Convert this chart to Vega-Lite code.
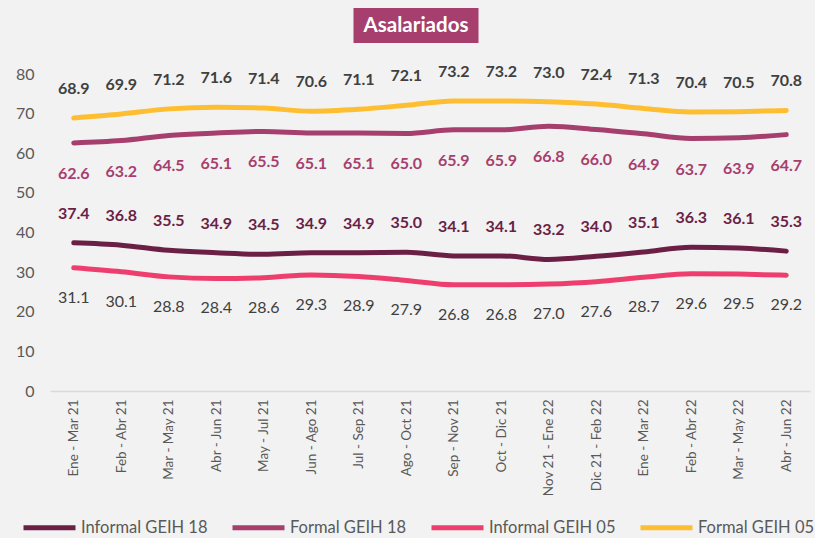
{
  "$schema": "https://vega.github.io/schema/vega-lite/v6.json",
  "background": "#F2F2F2",
  "padding": {"left": 15, "top": 8, "right": 0, "bottom": 0},
  "config": {
    "view": {"stroke": null},
    "font": "Lato"
  },
  "center": true,
  "spacing": 20,
  "datasets": {
    "series": [
      {"periodo": "Ene - Mar 21", "serie": "Informal GEIH 18", "valor": 37.4},
      {"periodo": "Feb - Abr 21", "serie": "Informal GEIH 18", "valor": 36.8},
      {"periodo": "Mar - May 21", "serie": "Informal GEIH 18", "valor": 35.5},
      {"periodo": "Abr - Jun 21", "serie": "Informal GEIH 18", "valor": 34.9},
      {"periodo": "May - Jul 21", "serie": "Informal GEIH 18", "valor": 34.5},
      {"periodo": "Jun - Ago 21", "serie": "Informal GEIH 18", "valor": 34.9},
      {"periodo": "Jul - Sep 21", "serie": "Informal GEIH 18", "valor": 34.9},
      {"periodo": "Ago - Oct 21", "serie": "Informal GEIH 18", "valor": 35.0},
      {"periodo": "Sep - Nov 21", "serie": "Informal GEIH 18", "valor": 34.1},
      {"periodo": "Oct - Dic 21", "serie": "Informal GEIH 18", "valor": 34.1},
      {"periodo": "Nov 21 - Ene 22", "serie": "Informal GEIH 18", "valor": 33.2},
      {"periodo": "Dic 21 - Feb 22", "serie": "Informal GEIH 18", "valor": 34.0},
      {"periodo": "Ene - Mar 22", "serie": "Informal GEIH 18", "valor": 35.1},
      {"periodo": "Feb - Abr 22", "serie": "Informal GEIH 18", "valor": 36.3},
      {"periodo": "Mar - May 22", "serie": "Informal GEIH 18", "valor": 36.1},
      {"periodo": "Abr - Jun 22", "serie": "Informal GEIH 18", "valor": 35.3},
      {"periodo": "Ene - Mar 21", "serie": "Formal GEIH 18", "valor": 62.6},
      {"periodo": "Feb - Abr 21", "serie": "Formal GEIH 18", "valor": 63.2},
      {"periodo": "Mar - May 21", "serie": "Formal GEIH 18", "valor": 64.5},
      {"periodo": "Abr - Jun 21", "serie": "Formal GEIH 18", "valor": 65.1},
      {"periodo": "May - Jul 21", "serie": "Formal GEIH 18", "valor": 65.5},
      {"periodo": "Jun - Ago 21", "serie": "Formal GEIH 18", "valor": 65.1},
      {"periodo": "Jul - Sep 21", "serie": "Formal GEIH 18", "valor": 65.1},
      {"periodo": "Ago - Oct 21", "serie": "Formal GEIH 18", "valor": 65.0},
      {"periodo": "Sep - Nov 21", "serie": "Formal GEIH 18", "valor": 65.9},
      {"periodo": "Oct - Dic 21", "serie": "Formal GEIH 18", "valor": 65.9},
      {"periodo": "Nov 21 - Ene 22", "serie": "Formal GEIH 18", "valor": 66.8},
      {"periodo": "Dic 21 - Feb 22", "serie": "Formal GEIH 18", "valor": 66.0},
      {"periodo": "Ene - Mar 22", "serie": "Formal GEIH 18", "valor": 64.9},
      {"periodo": "Feb - Abr 22", "serie": "Formal GEIH 18", "valor": 63.7},
      {"periodo": "Mar - May 22", "serie": "Formal GEIH 18", "valor": 63.9},
      {"periodo": "Abr - Jun 22", "serie": "Formal GEIH 18", "valor": 64.7},
      {"periodo": "Ene - Mar 21", "serie": "Informal GEIH 05", "valor": 31.1},
      {"periodo": "Feb - Abr 21", "serie": "Informal GEIH 05", "valor": 30.1},
      {"periodo": "Mar - May 21", "serie": "Informal GEIH 05", "valor": 28.8},
      {"periodo": "Abr - Jun 21", "serie": "Informal GEIH 05", "valor": 28.4},
      {"periodo": "May - Jul 21", "serie": "Informal GEIH 05", "valor": 28.6},
      {"periodo": "Jun - Ago 21", "serie": "Informal GEIH 05", "valor": 29.3},
      {"periodo": "Jul - Sep 21", "serie": "Informal GEIH 05", "valor": 28.9},
      {"periodo": "Ago - Oct 21", "serie": "Informal GEIH 05", "valor": 27.9},
      {"periodo": "Sep - Nov 21", "serie": "Informal GEIH 05", "valor": 26.8},
      {"periodo": "Oct - Dic 21", "serie": "Informal GEIH 05", "valor": 26.8},
      {"periodo": "Nov 21 - Ene 22", "serie": "Informal GEIH 05", "valor": 27.0},
      {"periodo": "Dic 21 - Feb 22", "serie": "Informal GEIH 05", "valor": 27.6},
      {"periodo": "Ene - Mar 22", "serie": "Informal GEIH 05", "valor": 28.7},
      {"periodo": "Feb - Abr 22", "serie": "Informal GEIH 05", "valor": 29.6},
      {"periodo": "Mar - May 22", "serie": "Informal GEIH 05", "valor": 29.5},
      {"periodo": "Abr - Jun 22", "serie": "Informal GEIH 05", "valor": 29.2},
      {"periodo": "Ene - Mar 21", "serie": "Formal GEIH 05", "valor": 68.9},
      {"periodo": "Feb - Abr 21", "serie": "Formal GEIH 05", "valor": 69.9},
      {"periodo": "Mar - May 21", "serie": "Formal GEIH 05", "valor": 71.2},
      {"periodo": "Abr - Jun 21", "serie": "Formal GEIH 05", "valor": 71.6},
      {"periodo": "May - Jul 21", "serie": "Formal GEIH 05", "valor": 71.4},
      {"periodo": "Jun - Ago 21", "serie": "Formal GEIH 05", "valor": 70.6},
      {"periodo": "Jul - Sep 21", "serie": "Formal GEIH 05", "valor": 71.1},
      {"periodo": "Ago - Oct 21", "serie": "Formal GEIH 05", "valor": 72.1},
      {"periodo": "Sep - Nov 21", "serie": "Formal GEIH 05", "valor": 73.2},
      {"periodo": "Oct - Dic 21", "serie": "Formal GEIH 05", "valor": 73.2},
      {"periodo": "Nov 21 - Ene 22", "serie": "Formal GEIH 05", "valor": 73.0},
      {"periodo": "Dic 21 - Feb 22", "serie": "Formal GEIH 05", "valor": 72.4},
      {"periodo": "Ene - Mar 22", "serie": "Formal GEIH 05", "valor": 71.3},
      {"periodo": "Feb - Abr 22", "serie": "Formal GEIH 05", "valor": 70.4},
      {"periodo": "Mar - May 22", "serie": "Formal GEIH 05", "valor": 70.5},
      {"periodo": "Abr - Jun 22", "serie": "Formal GEIH 05", "valor": 70.8}
    ]
  },
  "vconcat": [
    {
      "width": 125,
      "height": 35,
      "data": {"values": [{"titulo": "Asalariados", "inicio": 0, "fin": 1}]},
      "layer": [
        {
          "mark": {"type": "rect", "color": "#A63F6E", "xOffset": -14, "x2Offset": -14},
          "encoding": {
            "x": {"field": "inicio", "type": "quantitative", "scale": {"domain": [0, 1]}, "axis": null},
            "x2": {"field": "fin"}
          }
        },
        {
          "mark": {"type": "text", "color": "white", "fontWeight": "bold", "fontSize": 20.5, "font": "Lato", "align": "center", "baseline": "middle", "dx": -14},
          "encoding": {"text": {"field": "titulo"}}
        }
      ]
    },
    {
      "width": 760,
      "height": 317,
      "data": {"name": "series"},
      "encoding": {
        "x": {
          "field": "periodo", "type": "ordinal", "sort": null,
          "scale": {"type": "point", "padding": 0.5},
          "axis": {"title": null, "labelAngle": -90, "labelFontSize": 13.5, "labelColor": "#595959", "ticks": false, "domainColor": "#D9D9D9", "domainWidth": 1.5, "labelPadding": 8}
        },
        "y": {
          "field": "valor", "type": "quantitative",
          "scale": {"domain": [0, 80]},
          "axis": {"title": null, "values": [0,10,20,30,40,50,60,70,80], "grid": false, "ticks": false, "domain": false, "labelFontSize": 16, "labelColor": "#595959", "labelPadding": 16}
        }
      },
      "layer": [
        {
          "mark": {"type": "line", "interpolate": "monotone", "strokeWidth": 5, "strokeCap": "round"},
          "encoding": {
            "color": {
              "field": "serie", "type": "nominal",
              "scale": {"domain": ["Informal GEIH 18", "Formal GEIH 18", "Informal GEIH 05", "Formal GEIH 05"], "range": ["#6B1F45", "#A63F6E", "#EE3E6E", "#FEBE32"]},
              "legend": {"title": null, "orient": "none", "direction": "horizontal", "legendX": -29, "legendY": 491, "symbolType": "stroke", "symbolSize": 2704, "symbolStrokeWidth": 5, "labelFontSize": 16.5, "labelColor": "#595959", "columnPadding": 14, "labelOffset": 3, "labelLimit": 300}
            }
          }
        },
        {
          "transform": [{"filter": "datum.serie == 'Formal GEIH 05'"}],
          "mark": {"type": "text", "dy": -29, "fontSize": 16, "fontWeight": "bold", "color": "#404040"},
          "encoding": {"text": {"field": "valor", "type": "quantitative", "format": ".1f"}}
        },
        {
          "transform": [{"filter": "datum.serie == 'Formal GEIH 18'"}],
          "mark": {"type": "text", "dy": 31, "fontSize": 16, "fontWeight": "bold", "color": "#A63F6E"},
          "encoding": {"text": {"field": "valor", "type": "quantitative", "format": ".1f"}}
        },
        {
          "transform": [{"filter": "datum.serie == 'Informal GEIH 18'"}],
          "mark": {"type": "text", "dy": -29, "fontSize": 16, "fontWeight": "bold", "color": "#6B1F45"},
          "encoding": {"text": {"field": "valor", "type": "quantitative", "format": ".1f"}}
        },
        {
          "transform": [{"filter": "datum.serie == 'Informal GEIH 05'"}],
          "mark": {"type": "text", "dy": 30, "fontSize": 16, "color": "#404040"},
          "encoding": {"text": {"field": "valor", "type": "quantitative", "format": ".1f"}}
        }
      ]
    }
  ]
}
